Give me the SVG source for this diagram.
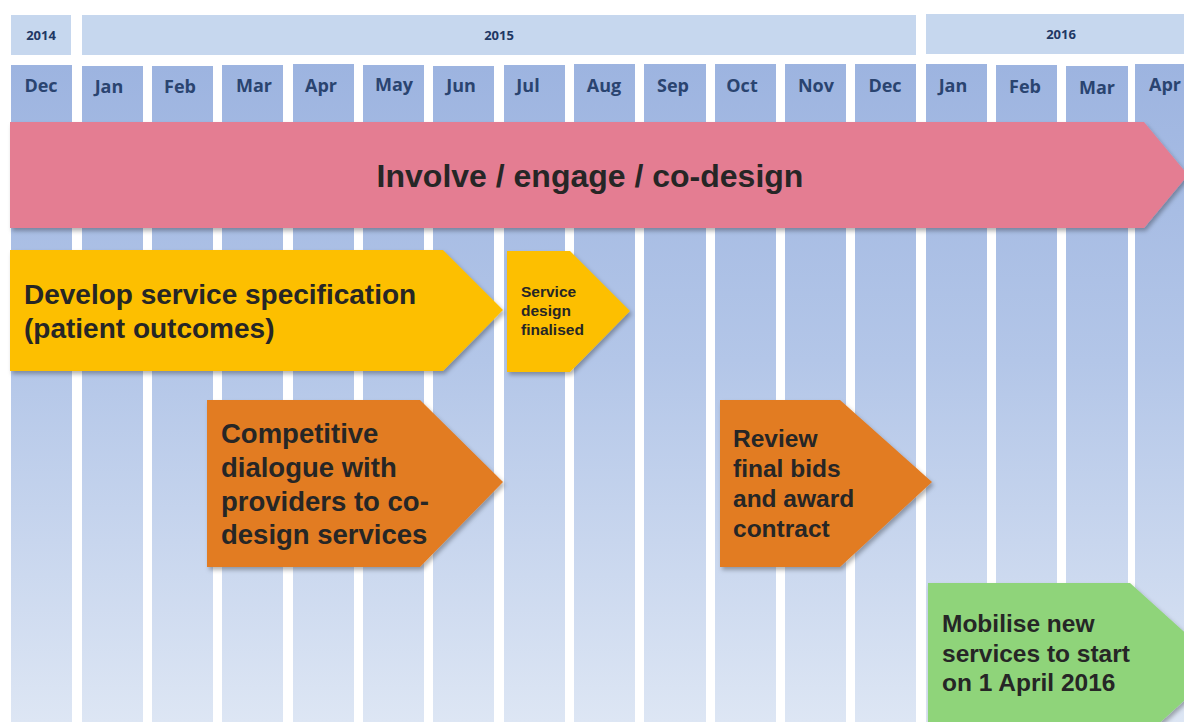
<svg xmlns="http://www.w3.org/2000/svg" width="1184" height="722" viewBox="0 0 1184 722">
  <defs>
    <linearGradient id="colFill" x1="0" y1="0" x2="0" y2="1">
      <stop offset="0" stop-color="#9db4e0"/>
      <stop offset="0.45" stop-color="#b3c6e8"/>
      <stop offset="1" stop-color="#dde6f4"/>
    </linearGradient>
    <filter id="shadow" x="-5%" y="-5%" width="115%" height="120%">
      <feDropShadow dx="2" dy="3" stdDeviation="2" flood-color="#000" flood-opacity="0.3"/>
    </filter>
    <style>
      .col { fill: url(#colFill); }
      .year { fill: #c6d7ee; }
      .yr { font-family: "Open Sans", "Liberation Sans", sans-serif; font-weight: 700; font-size: 13px; fill: #1f3864; text-anchor: middle; }
      .mon { font-family: "Open Sans", "Liberation Sans", sans-serif; font-weight: 700; font-size: 18px; fill: #2a4470; text-anchor: middle; }
      .lbl { font-family: "Liberation Sans", Arial, sans-serif; font-weight: 700; fill: #262626; }
    </style>
  </defs>

  <rect width="1184" height="722" fill="#ffffff"/>

  <!-- year header -->
  <g id="years">
    <rect class="year" x="11" y="15" width="60" height="40"/>
    <rect class="year" x="82" y="15" width="834" height="40"/>
    <rect class="year" x="926" y="14" width="258" height="40"/>
    <text class="yr" x="41" y="40">2014</text>
    <text class="yr" x="499" y="40">2015</text>
    <text class="yr" x="1061" y="39">2016</text>
  </g>

  <!-- month columns -->
  <g id="months">
    <rect class="col" x="11" y="65" width="61" height="657"/>
    <rect class="col" x="82" y="66" width="61" height="656"/>
    <rect class="col" x="152" y="66" width="61" height="656"/>
    <rect class="col" x="222" y="65" width="61" height="657"/>
    <rect class="col" x="293" y="64" width="61" height="658"/>
    <rect class="col" x="363" y="65" width="61" height="657"/>
    <rect class="col" x="433" y="66" width="61" height="656"/>
    <rect class="col" x="504" y="65" width="61" height="657"/>
    <rect class="col" x="574" y="64" width="61" height="658"/>
    <rect class="col" x="644" y="64" width="62" height="658"/>
    <rect class="col" x="715" y="64" width="61" height="658"/>
    <rect class="col" x="785" y="64" width="61" height="658"/>
    <rect class="col" x="855" y="64" width="61" height="658"/>
    <rect class="col" x="926" y="64" width="61" height="658"/>
    <rect class="col" x="996" y="65" width="61" height="657"/>
    <rect class="col" x="1066" y="66" width="62" height="656"/>
    <rect class="col" x="1135" y="64" width="49" height="658"/>
    <text class="mon" x="41" y="92">Dec</text>
    <text class="mon" x="109" y="93">Jan</text>
    <text class="mon" x="180" y="93">Feb</text>
    <text class="mon" x="254" y="92">Mar</text>
    <text class="mon" x="321" y="92">Apr</text>
    <text class="mon" x="394" y="91">May</text>
    <text class="mon" x="461" y="92">Jun</text>
    <text class="mon" x="528" y="92">Jul</text>
    <text class="mon" x="604" y="92">Aug</text>
    <text class="mon" x="673" y="92">Sep</text>
    <text class="mon" x="742" y="92">Oct</text>
    <text class="mon" x="816" y="92">Nov</text>
    <text class="mon" x="885" y="92">Dec</text>
    <text class="mon" x="953" y="92">Jan</text>
    <text class="mon" x="1025" y="93">Feb</text>
    <text class="mon" x="1097" y="94">Mar</text>
    <text class="mon" x="1165" y="91">Apr</text>
  </g>

  <!-- engagement band -->
  <g id="involve">
    <polygon points="10,122 1144,122 1188,175 1144,228 10,228" fill="#e47d92" filter="url(#shadow)"/>
    <text class="lbl" x="590" y="187" font-size="32" text-anchor="middle">Involve / engage / co-design</text>
  </g>

  <!-- specification -->
  <g id="spec">
    <polygon points="10,250 443,250 503,310 443,371 10,371" fill="#fdbf00" filter="url(#shadow)"/>
    <text class="lbl" font-size="28"><tspan x="24" y="304">Develop service specification</tspan><tspan x="24" y="338">(patient outcomes)</tspan></text>
  </g>

  <!-- design finalised -->
  <g id="finalised">
    <polygon points="507,251 570,251 630,311 570,372 507,372" fill="#fdbf00" filter="url(#shadow)"/>
    <text class="lbl" font-size="15.5"><tspan x="521" y="297">Service</tspan><tspan x="521" y="316">design</tspan><tspan x="521" y="335">finalised</tspan></text>
  </g>

  <!-- competitive dialogue -->
  <g id="dialogue">
    <polygon points="207,400 420,400 503,482 420,567 207,567" fill="#e27b22" filter="url(#shadow)"/>
    <text class="lbl" font-size="27.5"><tspan x="221" y="443">Competitive</tspan><tspan x="221" y="477">dialogue with</tspan><tspan x="221" y="511">providers to co-</tspan><tspan x="221" y="544">design services</tspan></text>
  </g>

  <!-- award -->
  <g id="award">
    <polygon points="720,400 840,400 932,482 840,567 720,567" fill="#e27b22" filter="url(#shadow)"/>
    <text class="lbl" font-size="24.5"><tspan x="733" y="447">Review</tspan><tspan x="733" y="477">final bids</tspan><tspan x="733" y="507">and award</tspan><tspan x="733" y="537">contract</tspan></text>
  </g>

  <!-- mobilisation -->
  <g id="mobilise">
    <polygon points="928,583 1130,583 1222,666 1130,750 928,750" fill="#8fd47a" filter="url(#shadow)"/>
    <text class="lbl" font-size="24.5"><tspan x="942" y="632">Mobilise new</tspan><tspan x="942" y="662">services to start</tspan><tspan x="942" y="691">on 1 April 2016</tspan></text>
  </g>

  <g id="connectors"/>
</svg>
